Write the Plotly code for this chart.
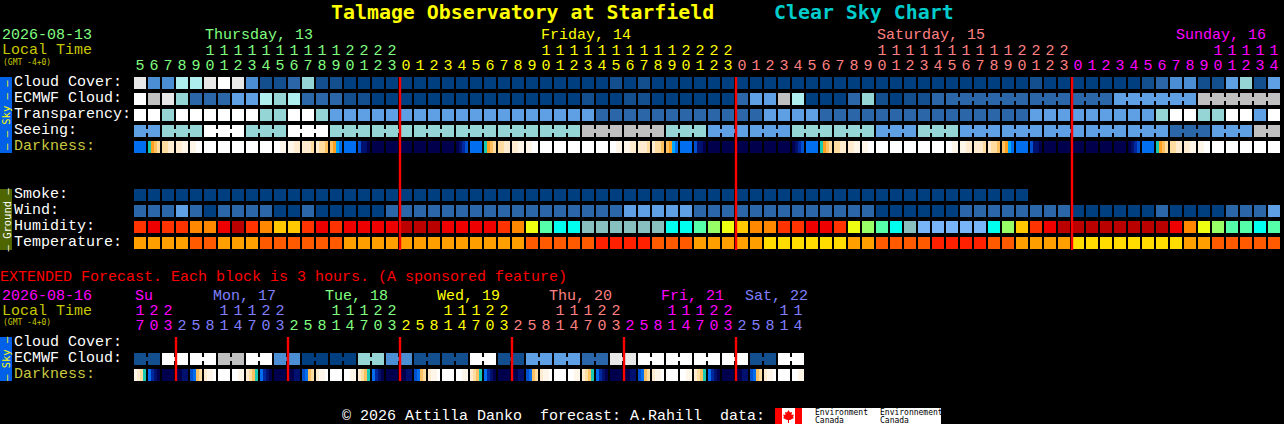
import plotly.graph_objects as go

W, H = 1284, 424
MONO = "Liberation Mono"
HEAVY = "DejaVu Sans Mono"

# ---------- hour labels ----------
hours_main = [5,6,7,8,9,10,11,12,13,14,15,16,17,18,19,20,21,22,23,
              0,1,2,3,4,5,6,7,8,9,10,11,12,13,14,15,16,17,18,19,20,21,22,23,
              0,1,2,3,4,5,6,7,8,9,10,11,12,13,14,15,16,17,18,19,20,21,22,23,
              0,1,2,3,4,5,6,7,8,9,10,11,12,13,14]
hours_ext = [17,20,23,
             2,5,8,11,14,17,20,23,
             2,5,8,11,14,17,20,23,
             2,5,8,11,14,17,20,23,
             2,5,8,11,14,17,20,23,
             2,5,8,11,14,17,20,23,
             2,5,8,11,14]
GREEN, YELLOW, SALMON, MAGENTA, BLUE = "#80ff80", "#ffff00", "#ff8080", "#ff00ff", "#8080ff"
colors_main = [GREEN]*19 + [YELLOW]*24 + [SALMON]*24 + [MAGENTA]*15
colors_ext = [MAGENTA]*3 + [BLUE]*8 + [GREEN]*8 + [YELLOW]*8 + [SALMON]*8 + [MAGENTA]*8 + [BLUE]*5

# ---------- sky / ground levels (index into CLOUD palette) ----------
CLOUD = ["#003f7f", "#134f8f", "#2a66a8", "#4c8ed4", "#5f9fe3", "#95d5d5", "#aeeeee", "#c0c0c0", "#e8e8e8", "#ffffff"]
cloud_cover = [8,3,3,6,6,8,9,8,3,1,1,2,5,1,1,0,0,0,0,0,0,
               0,0,0,0,0,0,0,0,0,0,0,0,0,1,0,1,0,0,0,0,0,0,
               0,0,0,0,0,0,0,0,0,0,0,0,0,0,0,0,0,0,0,0,0,1,0,0,
               0,0,0,0,0,1,2,3,3,1,1,4,5,1,4]
ecmwf_cloud = [9,7,8,5,2,2,2,4,4,6,5,6,2,2,2,1,1,0,0,0,0,
               0,0,0,0,0,0,0,0,0,0,0,1,0,0,1,1,0,0,0,0,0,0,
               2,4,4,7,6,0,0,0,2,5,1,0,1,1,2,
               2,2,2,2,2,2,2,2,2,2,2,2,
               4,4,4,4,4,4,7,7,7,7,7,7]
transparency = [9,9,5,9,9,9,9,9,9,5,5,9,9,5,4,4,4,4,4,4,4,
                4,4,4,4,4,4,4,4,4,4,4,4,2,2,2,2,2,2,2,2,2,2,
                2,2,4,4,4,4,2,2,2,
                2,2,2,2,2,2,2,2,2,2,2,2,
                4,4,4,4,4,4,4,4,4,5,9,9,5,5,9,9,4,9]
seeing = [4,4,5,5,5,9,9,9,5,5,5,9,9,9,5,5,5,5,5,5,5,5,5,
          5,5,5,5,5,5,5,5,5,7,7,7,7,7,7,5,5,5,4,4,4,4,4,4,5,5,5,5,5,5,
          4,4,4,5,5,5,4,4,4,4,4,4,4,4,4,4,4,4,4,4,4,2,2,2,4,4,4,7,7]
smoke = [0]*64
wind = [2,2,2,4,2,0,2,2,2,2,0,0,2,0,0,0,0,0,2,2,2,
        2,2,2,2,2,2,2,2,2,2,2,2,2,2,4,4,4,4,4,2,2,2,
        2,2,2,2,2,2,2,2,2,2,0,0,0,0,0,0,2,2,2,2,2,2,2,2,
        0,0,0,0,0,0,2,0,0,0,0,2,2,2,4]
ecmwf_ext = [1,1,9,9,9,9,7,7,9,9,3,3,0,0,0,0,5,5,3,3,1,1,
             1,1,9,9,1,1,4,4,4,4,2,2,8,8,9,9,9,9,9,9,9,9,1,1,9,9]

# cells joined into longer forecast periods
seeing_groups = [2,3,3,3,3,3,3,3,3,3,3,3,3,3,3,3,3,3,3,3,3,3,3,3,3,3,3,2]
ecmwf_groups = [1]*58 + [6,3,3,6,6]
ext_groups = [2]*24

# ---------- humidity / temperature ----------
HUM = ["#bb0000", "#ee0000", "#ff3300", "#ff8800", "#ffc800", "#eeff11", "#99ff66", "#55ffaa", "#00ffee", "#88c0c0", "#77b4f8"]
humidity = [2,1,2,2,3,3,1,0,2,3,4,4,2,1,2,1,1,1,1,0,0,
            0,1,1,1,1,2,3,5,7,8,8,9,9,9,9,9,9,8,8,7,6,5,
            4,3,3,2,2,1,1,2,5,6,7,8,9,10,10,10,10,10,8,6,4,2,1,0,
            0,0,0,0,0,0,0,1,3,5,6,7,7,8,7]
TEMP = ["#ffa000", "#ff5a00", "#ff2000", "#ffdd00"]
temperature = [0,0,0,0,1,1,0,0,0,1,1,1,1,1,1,0,0,0,0,0,0,
               0,0,0,0,0,0,0,1,1,1,1,1,2,2,2,2,1,1,1,0,0,0,
               0,0,3,3,3,3,3,3,0,0,1,1,1,1,2,2,2,2,1,1,0,0,0,0,
               3,3,3,3,3,3,3,3,0,0,1,1,1,1,1]

# ---------- darkness: four hex levels per block ----------
DARK = ["#00004c", "#00106e", "#0028a0", "#0050d0", "#006eee", "#00a8ff", "#18c8b0", "#ffa020",
        "#ffc060", "#ffdca0", "#ffecd0", "#fff6ea", "#ffffff"]
dark_main = ["4444","6789","99aa","aabb","bbcc","cccc","cccc","cccc","cccc","cccc","ccbb","bbaa","aaa9","a998",
             "8754","4444","3110","0000","0000","0000","0000","0000","0000","0123",
             "4444","6789","99aa","aabb","bbcc","cccc","cccc","cccc","cccc","cccc","ccbb","bbaa","aaa9","a998",
             "8754","4444","3110","0000","0000","0000","0000","0000","0000","0123",
             "4444","6789","99aa","aabb","bbcc","cccc","cccc","cccc","cccc","cccc","ccbb","bbaa","aaa9","a998",
             "8754","4444","3110","0000","0000","0000","0000","0000","0000","0123",
             "4444","6789","99aa","aabb","bbcc","cccc","cccc","cccc","cccc","cccc"]
dark_ext = ["ba96","4210","0000","0011","3489","abbc","cccc","ccbb",
            "a986","4210","0000","0011","3489","abbc","cccc","ccbb",
            "a986","4210","0000","0011","3489","abbc","cccc","ccbb",
            "a986","4210","0000","0011","3489","abbc","cccc","ccbb",
            "a986","4210","0000","0011","3489","abbc","cccc","ccbb",
            "a986","4210","0000","0011","3489","abbc","cccc","ccbb"]

# day headings: text, first column (fractional), colour
days_main = [("Thursday, 13", 5, GREEN), ("Friday, 14", 29, YELLOW), ("Saturday, 15", 53, SALMON), ("Sunday, 16", 74.36, MAGENTA)]
days_ext = [("Su", 0.07, MAGENTA), ("Mon, 17", 5.64, BLUE), ("Tue, 18", 13.64, GREEN), ("Wed, 19", 21.64, YELLOW),
            ("Thu, 20", 29.64, SALMON), ("Fri, 21", 37.64, MAGENTA), ("Sat, 22", 43.64, BLUE)]
midnights_main = [19, 43, 67]
midnights_ext = [3, 11, 19, 27, 35, 43]

# ---------- pixel helpers: axes are in columns and rows ----------
def cx(p): return (p - 140) / 14.0     # pixel x to column
def ry(p): return (p - 83) / 16.0      # pixel y to row
def px(p): return p / W
def py(p): return 1 - p / H

EXT_R = ry(343)  # cloud-cover row of the extended block

def scale(colors):
    n = len(colors)
    out = []
    for i, c in enumerate(colors):
        out += [[i / n, c], [(i + 1) / n, c]]
    return out

def joined(groups):
    s = set(); i = 0
    for g in groups:
        for j in range(g - 1):
            s.add(i + j)
        i += g
    return s

def grid(rows, colors):
    """rows: list of (row position, values, joined set). Blocks 12px, joiners 2x4px."""
    ncol = max(len(r[1]) for r in rows)
    xe = []
    for c in range(ncol):
        xe += [c - 3/7, c + 3/7]
    ye, z = [], []
    rows = sorted(rows, key=lambda r: r[0])
    for k, (r, vals, jn) in enumerate(rows):
        ye += [r - .375, r - .125, r + .125, r + .375]
        for band in range(3):
            line = []
            for c in range(ncol):
                v = vals[c] if c < len(vals) else None
                line.append(v)
                if c < ncol - 1:
                    line.append(v if (band == 1 and c in jn and v is not None) else None)
            z.append(line)
        if k < len(rows) - 1:
            z.append([None] * (2 * ncol - 1))
    return go.Heatmap(x=xe, y=ye, z=z, zmin=-.5, zmax=len(colors) - .5, colorscale=scale(colors),
                      showscale=False, hoverinfo="skip", zsmooth=False)

def dark_grid(r, vals):
    xe, line = [], []
    for c, s in enumerate(vals):
        for i in range(4):
            xe.append(c - 3/7 + i * 3 / 14)
        xe.append(c + 3/7)
        line += [int(ch, 16) for ch in s]
        if c < len(vals) - 1:
            line.append(None)
    z = [line]
    return go.Heatmap(x=xe, y=[r - .375, r + .375], z=z, zmin=-.5, zmax=len(DARK) - .5, colorscale=scale(DARK),
                      showscale=False, hoverinfo="skip", zsmooth=False)

def hour_text(hours, colors, y_tens, y_units):
    tx = [c for c, h in enumerate(hours) if h >= 10]
    tt = [str(hours[c] // 10) for c in tx]
    tc = [colors[c] for c in tx]
    return [
        go.Scatter(x=tx, y=[y_tens] * len(tx), text=tt, mode="text", textposition="middle center",
                   textfont=dict(family=MONO, size=15, color=tc), hoverinfo="skip", cliponaxis=False),
        go.Scatter(x=list(range(len(hours))), y=[y_units] * len(hours), text=[str(h % 10) for h in hours], mode="text",
                   textposition="middle center", textfont=dict(family=MONO, size=15, color=colors), hoverinfo="skip", cliponaxis=False),
    ]

def red_lines(cols, y0, y1):
    xs, ys = [], []
    for c in cols:
        xs += [c - .5 + 1/14, c - .5 + 1/14, None]
        ys += [y0, y1, None]
    return go.Scatter(x=xs, y=ys, mode="lines", line=dict(color="#ff0000", width=2.4), hoverinfo="skip")

fig = go.Figure()
fig.add_trace(grid([(0, cloud_cover, set()), (1, ecmwf_cloud, joined(ecmwf_groups)), (2, transparency, set()),
                    (3, seeing, joined(seeing_groups)), (7, smoke, set()), (8, wind, set())], CLOUD))
fig.add_trace(dark_grid(4, dark_main))
fig.add_trace(grid([(9, humidity, set())], HUM))
fig.add_trace(grid([(10, temperature, set())], TEMP))
fig.add_trace(grid([(EXT_R + 1, ecmwf_ext, joined(ext_groups))], CLOUD))
fig.add_trace(dark_grid(EXT_R + 2, dark_ext))
for t in hour_text(hours_main, colors_main, ry(51.2), ry(66.2)) + hour_text(hours_ext, colors_ext, ry(311.2), ry(326.2)):
    fig.add_trace(t)
fig.add_trace(red_lines(midnights_main, ry(77), ry(250)))
fig.add_trace(red_lines(midnights_ext, ry(337), ry(381)))

ann = []
def T(x, y, s, color="#ffffff", size=15, bold=False, anchor="left", angle=0, font=MONO):
    ann.append(dict(xref="paper", yref="paper", x=px(x), y=py(y), text=("<b>%s</b>" % s) if bold else s,
                    showarrow=False, xanchor=anchor, yanchor="middle", textangle=angle,
                    font=dict(family=font, size=size, color=color), borderpad=0, borderwidth=0))

T(331, 12.5, "Talmage Observatory at Starfield", "#ffff00", 19.9, True, font=HEAVY)
T(774, 12.5, "Clear Sky Chart", "#00cccc", 19.9, True, font=HEAVY)
T(2, 36, "2026-08-13", GREEN)
T(2, 51, "Local Time", "#c8c800")
T(3, 62, "(GMT -4+0)", "#c8c800", 8, font=HEAVY)
for name, c, col in days_main:
    T(134 + 14 * c + 1, 36, name, col)
labels = ["Cloud Cover:", "ECMWF Cloud:", "Transparency:", "Seeing:"]
for i, s in enumerate(labels):
    T(14, 82.5 + 16 * i, s)
T(14, 146.5, "Darkness:", "#c8c840")
for i, s in enumerate(["Smoke:", "Wind:", "Humidity:", "Temperature:"]):
    T(14, 194.5 + 16 * i, s)
T(0, 277, "EXTENDED Forecast. Each block is 3 hours. (A sponsored feature)", "#ff0000")
T(2, 296, "2026-08-16", MAGENTA)
T(2, 311, "Local Time", "#c8c800")
T(3, 322, "(GMT -4+0)", "#c8c800", 8, font=HEAVY)
for name, c, col in days_ext:
    T(134 + 14 * c, 296, name, col)
T(14, 342.5, "Cloud Cover:")
T(14, 358.5, "ECMWF Cloud:")
T(14, 374.5, "Darkness:", "#c8c840")
T(342, 416, "\u00a9 2026 Attilla Danko  forecast: A.Rahill  data:")
T(815, 412.5, "Environment", "#000000", 8, font=HEAVY)
T(815, 420, "Canada", "#000000", 8, font=HEAVY)
T(880, 412.5, "Environnement", "#000000", 8, font=HEAVY)
T(880, 420, "Canada", "#000000", 8, font=HEAVY)
T(6, 115, "\u2013 \u2013 Sky \u2013 \u2013", "#ffff00", 10.5, angle=-90, anchor="center", font=HEAVY)
T(6, 219.5, "\u2013 Ground \u2013", "#ffffff", 10.5, angle=-90, anchor="center", font=HEAVY)
T(6, 359, "\u2013 Sky \u2013", "#ffff00", 10.5, angle=-90, anchor="center", font=HEAVY)

def rect(x0, y0, x1, y1, c):
    return dict(type="rect", xref="paper", yref="paper", x0=px(x0), x1=px(x1), y0=py(y0), y1=py(y1),
                fillcolor=c, line=dict(width=0), layer="below")

shapes = [rect(0, 77, 12, 153, "#0060e8"), rect(0, 189, 12, 250, "#4f6500"), rect(0, 337, 12, 381, "#0060e8"),
          rect(775, 408, 941, 424, "#ffffff"), rect(775, 408, 782, 424, "#ff0000"), rect(795, 408, 802, 424, "#ff0000")]
leaf = [(788.5, 410), (790, 412.5), (792, 412), (791.5, 415), (794, 414.5), (793, 417), (794, 418), (790, 420),
        (789, 420), (789, 423), (788, 423), (788, 420), (787, 420), (783, 418), (784, 417), (783, 414.5), (785.5, 415), (785, 412), (787, 412.5)]
path = "M " + " L ".join("%f %f" % (px(a), py(b)) for a, b in leaf) + " Z"
shapes.append(dict(type="path", xref="paper", yref="paper", path=path, fillcolor="#ff0000", line=dict(width=0), layer="below"))

fig.update_layout(
    width=W, height=H, autosize=False, margin=dict(l=0, r=0, t=0, b=0, pad=0),
    paper_bgcolor="#000000", plot_bgcolor="rgba(0,0,0,0)", showlegend=False,
    xaxis=dict(range=[cx(0), cx(W)], visible=False, fixedrange=True),
    yaxis=dict(range=[ry(H), ry(0)], visible=False, fixedrange=True),
    annotations=ann, shapes=shapes,
)
fig.write_html("out.html", config=dict(displayModeBar=False, staticPlot=True),
               post_script="document.body.style.margin='0';document.body.style.background='#000';document.body.style.overflow='hidden';")
